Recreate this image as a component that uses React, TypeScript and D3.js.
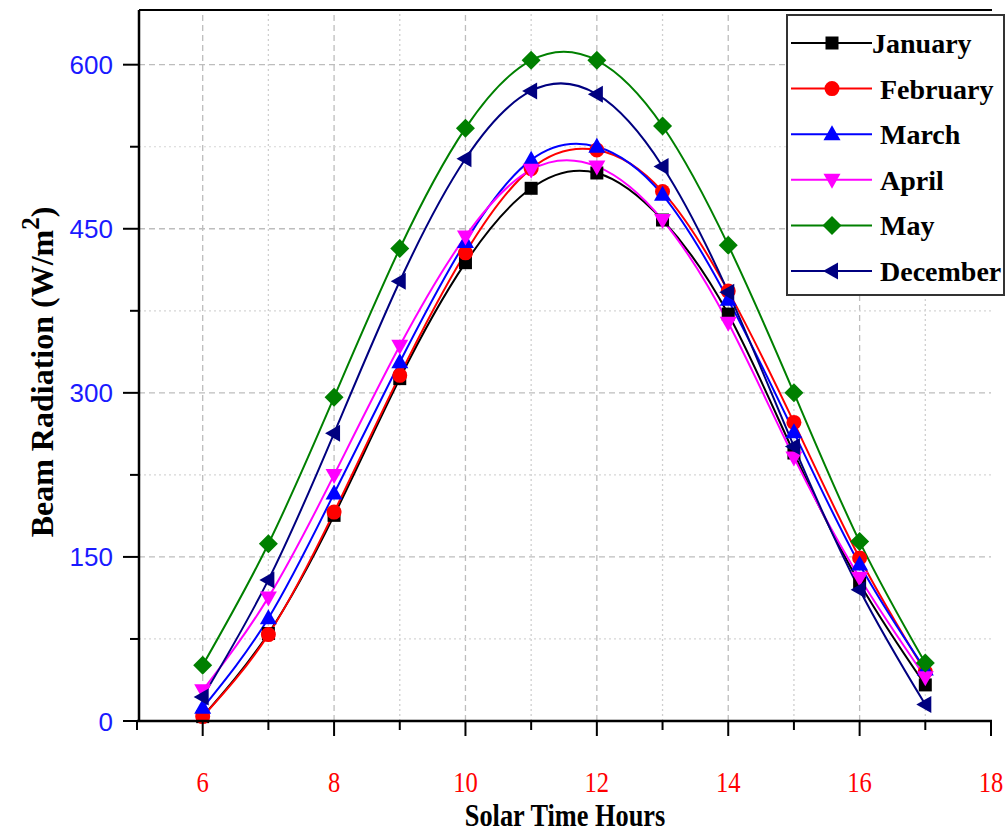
import React from "react";
import * as d3 from "d3";

const hours = [6, 7, 8, 9, 10, 11, 12, 13, 14, 15, 16, 17];
const january = [4, 80, 188, 313, 419, 487, 501, 458, 372, 245, 126, 33];
const february = [4, 79, 191, 316, 428, 505, 522, 484, 393, 273, 149, 45];
const march = [12, 94, 208, 328, 438, 513, 525, 481, 385, 264, 143, 47];
const april = [28, 113, 225, 343, 443, 504, 507, 458, 364, 241, 131, 40];
const may = [51, 162, 296, 432, 542, 604, 604, 544, 435, 300, 164, 53];
const december = [22, 129, 263, 402, 514, 576, 573, 507, 392, 251, 120, 15];

const seriesNames = ["January", "February", "March", "April", "May", "December"];
const seriesValues = [january, february, march, april, may, december];
const seriesColors = ["#000000", "#ff0000", "#0000ff", "#ff00ff", "#008000", "#000080"];
const seriesMarkers = ["square", "circle", "up", "down", "diamond", "left"];

const xTicksMajor = [6, 8, 10, 12, 14, 16, 18];
const xTicksMinor = [5, 7, 9, 11, 13, 15, 17];
const yTicksMajor = [0, 150, 300, 450, 600];
const yTicksMinor = [75, 225, 375, 525];

function markerPath(kind: string, x: number, y: number): string {
  switch (kind) {
    case "square": {
      const s = 6.5;
      return `M${x - s},${y - s}H${x + s}V${y + s}H${x - s}Z`;
    }
    case "circle": {
      const r = 7.5;
      return `M${x - r},${y}A${r},${r} 0 1,0 ${x + r},${y}A${r},${r} 0 1,0 ${x - r},${y}Z`;
    }
    case "up":
      return `M${x},${y - 9}L${x + 8.5},${y + 6}L${x - 8.5},${y + 6}Z`;
    case "down":
      return `M${x},${y + 9}L${x + 8.5},${y - 6}L${x - 8.5},${y - 6}Z`;
    case "diamond":
      return `M${x},${y - 9.5}L${x + 9.5},${y}L${x},${y + 9.5}L${x - 9.5},${y}Z`;
    case "left":
      return `M${x - 9},${y}L${x + 6},${y - 8.5}L${x + 6},${y + 8.5}Z`;
  }
  return "";
}

export default function App() {
  const W = 1007;
  const H = 831;
  const x = d3.scaleLinear().domain([5, 18]).range([137, 991]);
  const y = d3.scaleLinear().domain([0, 650]).range([721, 10]);
  const line = d3
    .line<[number, number]>()
    .x((d) => x(d[0]))
    .y((d) => y(d[1]))
    .curve(d3.curveNatural);

  const serif = "'Liberation Serif', 'Times New Roman', serif";
  const sans = "'Liberation Sans', Arial, sans-serif";

  const legendX = 787;
  const legendY = 15;
  const legendRowH = 45.6;

  return (
    <svg
      width={W}
      height={H}
      style={{ position: "absolute", left: 0, top: 0, background: "#fff" }}
    >
      {/* grid */}
      {d3.range(6, 18).map((h) => (
        <line
          key={"gx" + h}
          x1={x(h)}
          x2={x(h)}
          y1={y(0)}
          y2={10}
          stroke={h % 2 === 0 ? "#bdbdbd" : "#cfcfcf"}
          strokeWidth={1.3}
          strokeDasharray={h % 2 === 0 ? "6,4" : "2,3"}
        />
      ))}
      {yTicksMajor.slice(1).map((v) => (
        <line
          key={"gy" + v}
          x1={139}
          x2={991}
          y1={y(v)}
          y2={y(v)}
          stroke="#bdbdbd"
          strokeWidth={1.3}
          strokeDasharray="6,4"
        />
      ))}
      {yTicksMinor.map((v) => (
        <line
          key={"gym" + v}
          x1={139}
          x2={991}
          y1={y(v)}
          y2={y(v)}
          stroke="#d6d6d6"
          strokeWidth={1.2}
          strokeDasharray="2,3"
        />
      ))}

      {/* series lines */}
      {seriesValues.map((vals, i) => (
        <path
          key={"l" + i}
          d={line(hours.map((h, j) => [h, vals[j]] as [number, number])) || ""}
          fill="none"
          stroke={seriesColors[i]}
          strokeWidth={2}
        />
      ))}
      {/* markers */}
      {seriesValues.map((vals, i) => (
        <g key={"m" + i} fill={seriesColors[i]}>
          {hours.map((h, j) => (
            <path key={j} d={markerPath(seriesMarkers[i], x(h), y(vals[j]))} />
          ))}
        </g>
      ))}

      {/* axes */}
      <line x1={139} x2={992} y1={10} y2={10} stroke="#000" strokeWidth={2} />
      <line x1={139} x2={139} y1={10} y2={722} stroke="#000" strokeWidth={2.5} />
      <line x1={137} x2={992} y1={721} y2={721} stroke="#000" strokeWidth={2.5} />
      {xTicksMajor.map((t) => (
        <line key={"xt" + t} x1={x(t)} x2={x(t)} y1={721} y2={736} stroke="#000" strokeWidth={2} />
      ))}
      {xTicksMinor.map((t) => (
        <line key={"xm" + t} x1={x(t)} x2={x(t)} y1={721} y2={730} stroke="#000" strokeWidth={2} />
      ))}
      {yTicksMajor.map((t) => (
        <line key={"yt" + t} x1={123} x2={139} y1={y(t)} y2={y(t)} stroke="#000" strokeWidth={2} />
      ))}
      {yTicksMinor.map((t) => (
        <line key={"ym" + t} x1={130} x2={139} y1={y(t)} y2={y(t)} stroke="#000" strokeWidth={2} />
      ))}

      {/* tick labels */}
      {xTicksMajor.map((t) => (
        <text
          key={"xl" + t}
          transform={`translate(${x(t)},${792}) scale(0.82,1)`}
          textAnchor="middle"
          fontFamily={serif}
          fontSize={30}
          fill="#ff0000"
        >
          {t}
        </text>
      ))}
      {yTicksMajor.map((t) => (
        <text
          key={"yl" + t}
          x={113}
          y={y(t) + 9.5}
          textAnchor="end"
          fontFamily={sans}
          fontSize={26}
          fill="#1a1aff"
        >
          {t}
        </text>
      ))}

      {/* axis titles */}
      <text
        transform={`translate(565,826) scale(0.85,1)`}
        textAnchor="middle"
        fontFamily={serif}
        fontWeight="bold"
        fontSize={31}
        fill="#000"
      >
        Solar Time Hours
      </text>
      <text
        transform={`translate(53,372) rotate(-90)`}
        textAnchor="middle"
        fontFamily={serif}
        fontWeight="bold"
        fontSize={32}
        fill="#000"
      >
        Beam Radiation (W/m
        <tspan dy={-14} fontSize={25}>2</tspan>
        <tspan dy={14}>)</tspan>
      </text>

      {/* legend */}
      <rect
        x={legendX}
        y={legendY}
        width={217}
        height={280}
        fill="#fff"
        stroke="#333"
        strokeWidth={2}
      />
      {seriesNames.map((name, i) => {
        const cy = 43 + i * legendRowH;
        return (
          <g key={"lg" + i}>
            <line x1={791} x2={872} y1={cy} y2={cy} stroke={seriesColors[i]} strokeWidth={2} />
            <path d={markerPath(seriesMarkers[i], 832, cy)} fill={seriesColors[i]} />
            <text
              x={i === 0 ? 872 : 880}
              y={cy + 10}
              fontFamily={serif}
              fontWeight="bold"
              fontSize={28}
              fill="#000"
            >
              {name}
            </text>
          </g>
        );
      })}
    </svg>
  );
}
